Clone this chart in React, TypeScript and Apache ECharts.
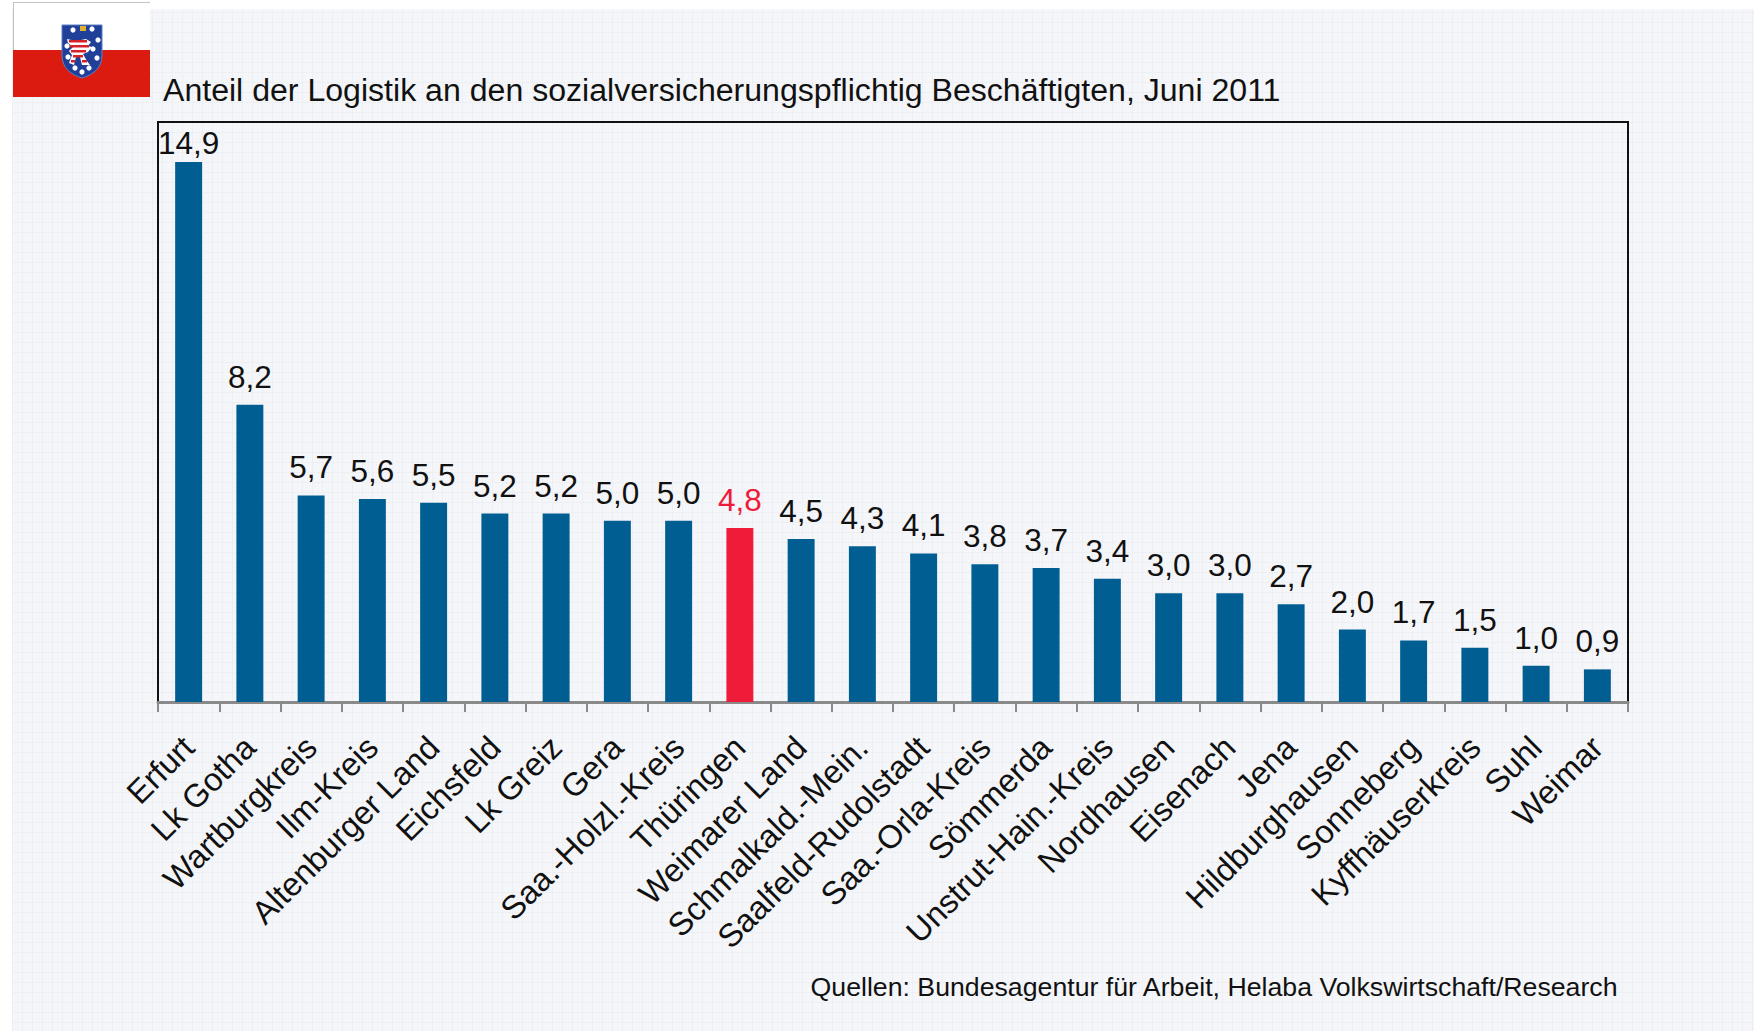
import React, { useEffect, useRef } from "react";
import * as echarts from "echarts";

const titleText = "Anteil der Logistik an den sozialversicherungspflichtig Beschäftigten, Juni 2011";
const sourceText = "Quellen: Bundesagentur für Arbeit, Helaba Volkswirtschaft/Research";
const categories = [
  "Erfurt", "Lk Gotha", "Wartburgkreis", "Ilm-Kreis", "Altenburger Land", "Eichsfeld", "Lk Greiz", "Gera",
  "Saa.-Holzl.-Kreis", "Thüringen", "Weimarer Land", "Schmalkald.-Mein.", "Saalfeld-Rudolstadt", "Saa.-Orla-Kreis",
  "Sömmerda", "Unstrut-Hain.-Kreis", "Nordhausen", "Eisenach", "Jena", "Hildburghausen", "Sonneberg",
  "Kyffhäuserkreis", "Suhl", "Weimar",
];
const values = [14.9, 8.2, 5.7, 5.6, 5.5, 5.2, 5.2, 5.0, 5.0, 4.8, 4.5, 4.3, 4.1, 3.8, 3.7, 3.4, 3.0, 3.0, 2.7, 2.0, 1.7, 1.5, 1.0, 0.9];
const highlighted = "Thüringen";

const FONT = "'Liberation Sans', Arial, sans-serif";
const BLUE = "#005E92";
const RED = "#EE1C39";

const shieldPath = "M0 0 L40 0 L40 30 C40 44 30 50 20 53 C10 50 0 44 0 30 Z";
echarts.graphic.registerShape("shield", echarts.graphic.extendPath(shieldPath, {}));

const flagGraphic = () => {
  const dots = [[11, 5], [30, 4], [36, 15], [31, 24], [35, 33], [5, 21], [6, 32], [13, 43], [20, 47], [27, 43]];
  const lion = [[5, 14], [14, 16], [24, 14], [29, 17], [26, 21], [30, 22], [26, 27], [21, 29], [25, 36], [28, 40], [20, 40], [18, 32], [14, 32], [12, 40], [7, 38], [10, 30], [7, 26], [11, 22], [6, 18]];
  const stripes = [[7, 15, 18], [8, 20, 19], [9, 25, 15], [11, 30, 10], [9, 35, 4], [20, 35, 5]];
  return [
    { type: "rect", shape: { x: 13, y: 2, width: 137, height: 48 }, style: { fill: "#ffffff" } },
    { type: "rect", shape: { x: 13, y: 50, width: 137, height: 47 }, style: { fill: "#DB1A10" } },
    { type: "line", shape: { x1: 13, y1: 2.5, x2: 150, y2: 2.5 }, style: { stroke: "#c4c4c4", lineWidth: 1 } },
    { type: "line", shape: { x1: 13.5, y1: 2, x2: 13.5, y2: 50 }, style: { stroke: "#c4c4c4", lineWidth: 1 } },
    {
      type: "group",
      x: 62,
      y: 25,
      children: [
        { type: "shield", x: 0, y: 0, style: { fill: "#1F3F98", stroke: "#5f7fc0", lineWidth: 1 } },
        { type: "polygon", shape: { points: lion }, style: { fill: "#ffffff" } },
        ...stripes.map(([x, y, w]) => ({
          type: "rect",
          shape: { x, y, width: w, height: 2.5 },
          style: { fill: "#D8202A" },
        })),
        { type: "rect", shape: { x: 18, y: 1, width: 6, height: 5 }, style: { fill: "#E0B030" } },
        ...dots.map(([cx, cy]) => ({ type: "circle", shape: { cx, cy, r: 2.6 }, style: { fill: "#ffffff" } })),
      ],
    },
  ];
};

export default function App() {
  const ref = useRef<HTMLDivElement>(null);
  useEffect(() => {
    document.body.style.margin = "0";
    const chart = echarts.init(ref.current!, null, { renderer: "svg" });
    const top = Math.max(...values);
    chart.setOption({
      animation: false,
      backgroundColor: "transparent",
      title: [
        { text: titleText, left: 158, top: 69, textStyle: { fontFamily: FONT, fontSize: 32.1, fontWeight: "normal", color: "#111" } },
        { text: sourceText, right: 130, top: 968, textStyle: { fontFamily: FONT, fontSize: 26.7, fontWeight: "normal", color: "#111" } },
      ],
      grid: { left: 158, right: 126, top: 122, bottom: 329, show: true, borderColor: "#111", borderWidth: 2, backgroundColor: "transparent" },
      xAxis: {
        type: "category",
        data: categories,
        axisLine: { lineStyle: { color: "#8a8a8a", width: 3 } },
        axisTick: { show: true, length: 10, lineStyle: { color: "#8a8a8a", width: 2 } },
        axisLabel: { rotate: 45, interval: 0, margin: 40, fontFamily: FONT, fontSize: 32.5, color: "#111" },
      },
      yAxis: { type: "value", min: 0, max: 16, show: false, splitLine: { show: false } },
      series: [
        {
          type: "bar",
          barWidth: "44%",
          data: categories.map((name, i) => ({
            value: values[i],
            itemStyle: { color: name === highlighted ? RED : BLUE },
            label: { color: name === highlighted ? RED : "#111", distance: values[i] === top ? 3 : 12 },
          })),
          label: {
            show: true,
            position: "top",
            fontFamily: FONT,
            fontSize: 31.5,
            formatter: (p: any) => Number(p.value).toFixed(1).replace(".", ","),
          },
        },
      ],
      graphic: flagGraphic(),
    });
    return () => chart.dispose();
  }, []);
  const gridBg = {
    position: "absolute" as const,
    left: 12,
    top: 9,
    right: 0,
    bottom: 0,
    backgroundColor: "#f5f6f9",
    backgroundImage:
      "linear-gradient(to right, #eeeff3 1px, transparent 1px), linear-gradient(to bottom, #eeeff3 1px, transparent 1px)",
    backgroundSize: "10px 10px",
    backgroundPosition: "10px 3px",
  };
  return (
    <div style={{ position: "relative", width: 1754, height: 1031, overflow: "hidden", background: "#fff" }}>
      <div style={gridBg} />
      <div ref={ref} style={{ position: "absolute", left: 0, top: 0, width: 1754, height: 1031 }} />
    </div>
  );
}
